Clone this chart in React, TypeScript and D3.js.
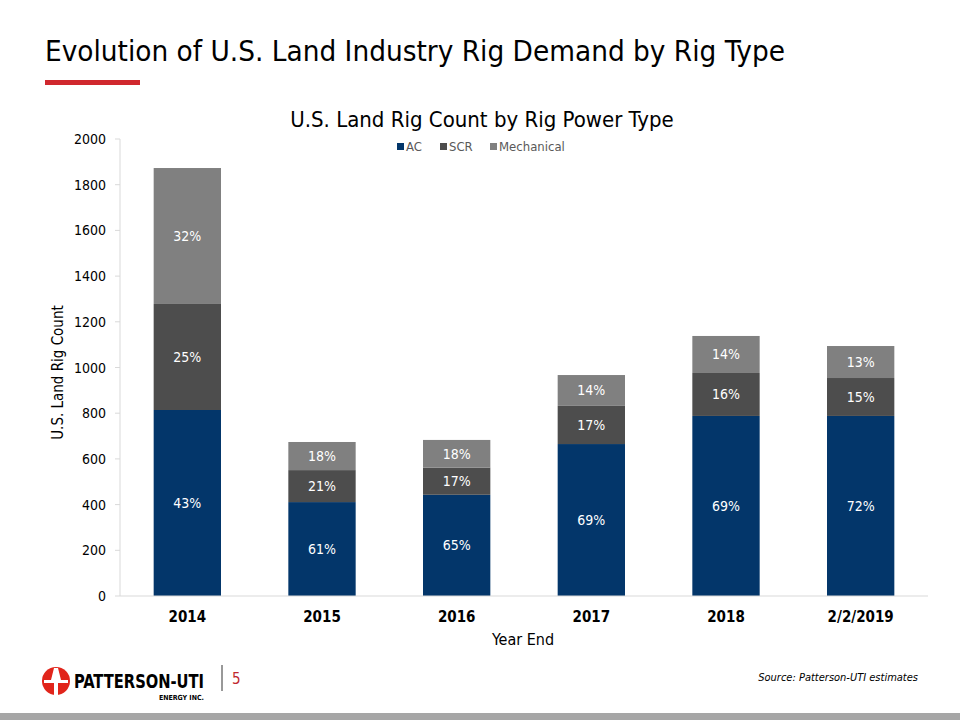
import React from "react";
import * as d3 from "d3";

const categories = ["2014", "2015", "2016", "2017", "2018", "2/2/2019"];
const seriesNames = ["AC", "SCR", "Mechanical"];
const acValues = [814, 411, 443, 665, 788, 788];
const scrValues = [464, 140, 119, 167, 188, 166];
const mechValues = [595, 123, 121, 135, 162, 140];
const acLabels = ["43%", "61%", "65%", "69%", "69%", "72%"];
const scrLabels = ["25%", "21%", "17%", "17%", "16%", "15%"];
const mechLabels = ["32%", "18%", "18%", "14%", "14%", "13%"];
const yTicks = [0, 200, 400, 600, 800, 1000, 1200, 1400, 1600, 1800, 2000];
const colors = ["#03366A", "#4D4D4D", "#808080"];

const FONT = "'Liberation Sans Narrow', 'DejaVu Sans Condensed', 'Roboto Condensed', 'Liberation Sans', sans-serif";

export default function App() {
  const W = 960, H = 720;
  const left = 120, right = 928, top = 139, bottom = 596;
  const x = d3.scaleBand<string>().domain(categories).range([left, right]).paddingInner(0.5).paddingOuter(0.25);
  const y = d3.scaleLinear().domain([0, 2000]).range([bottom, top]);

  const rows = categories.map((c, i) => ({ cat: c, AC: acValues[i], SCR: scrValues[i], Mechanical: mechValues[i] }));
  const stack = d3.stack<any>().keys(seriesNames)(rows);
  const labels = [acLabels, scrLabels, mechLabels];

  const legendX = [397, 440, 490];

  return (
    <svg width={W} height={H} style={{ position: "absolute", left: 0, top: 0 }} fontFamily={FONT}>
      <rect width={W} height={H} fill="#fff" />
      {/* Slide title */}
      <text x={45} y={61} fontSize={29} fill="#000" textLength={740} lengthAdjust="spacingAndGlyphs">
        Evolution of U.S. Land Industry Rig Demand by Rig Type
      </text>
      <rect x={45} y={80} width={95} height={5} fill="#D0282E" />

      {/* Chart title */}
      <text x={482} y={127} fontSize={22} textAnchor="middle" fill="#000">U.S. Land Rig Count by Rig Power Type</text>
      {seriesNames.map((s, i) => (
        <g key={s}>
          <rect x={legendX[i]} y={143} width={7} height={7} fill={colors[i]} />
          <text x={legendX[i] + 9} y={151} fontSize={13} fill="#595959">{s}</text>
        </g>
      ))}

      {/* Y axis */}
      <line x1={left} x2={left} y1={top} y2={bottom} stroke="#D9D9D9" />
      {yTicks.map((t) => (
        <g key={t}>
          <line x1={left - 5} x2={left} y1={y(t)} y2={y(t)} stroke="#D9D9D9" />
          <text x={106} y={y(t) + 5} fontSize={14} textAnchor="end" fill="#000">{t}</text>
        </g>
      ))}
      <text transform={`translate(63,${(top + bottom) / 2 + 5}) rotate(-90)`} fontSize={15} textAnchor="middle" fill="#000">
        U.S. Land Rig Count
      </text>

      {/* Bars */}
      {stack.map((layer, si) => (
        <g key={layer.key}>
          {layer.map((d: any, i: number) => (
            <g key={i}>
              <rect x={x(categories[i])} y={y(d[1])} width={x.bandwidth()} height={y(d[0]) - y(d[1])} fill={colors[si]} />
              <text x={(x(categories[i]) as number) + x.bandwidth() / 2} y={(y(d[0]) + y(d[1])) / 2 + 5} fontSize={14} textAnchor="middle" fill="#fff">
                {labels[si][i]}
              </text>
            </g>
          ))}
        </g>
      ))}

      {/* X axis */}
      <line x1={left} x2={right} y1={bottom} y2={bottom} stroke="#D9D9D9" />
      {categories.map((c) => (
        <text key={c} x={(x(c) as number) + x.bandwidth() / 2} y={622} fontSize={15} fontWeight="bold" textAnchor="middle" fill="#000">{c}</text>
      ))}
      <text x={523} y={645} fontSize={16} textAnchor="middle" fill="#000">Year End</text>

      {/* Footer logo */}
      <circle cx={56} cy={681} r={14} fill="#E1251B" />
      <path d="M54,668 L58,668 L61,680 L68,680 L68,683 L58,683 L58,695 L54,695 L54,683 L44,683 L44,680 L51,680 Z" fill="#fff" />
      <text x={74} y={688} fontSize={19} fontWeight="bold" fill="#000" textLength={130} lengthAdjust="spacingAndGlyphs">PATTERSON-UTI</text>
      <text x={204} y={700} fontSize={7} fontWeight="bold" fill="#000" textAnchor="end">ENERGY INC.</text>
      <line x1={222} x2={222} y1={665} y2={691} stroke="#333" strokeWidth={1} />
      <text x={232} y={684} fontSize={15} fill="#C0282E">5</text>
      <text x={918} y={681} fontSize={11} fontStyle="italic" textAnchor="end" fill="#000">Source: Patterson-UTI estimates</text>
      <rect x={0} y={713} width={W} height={7} fill="#A6A6A6" />
    </svg>
  );
}
